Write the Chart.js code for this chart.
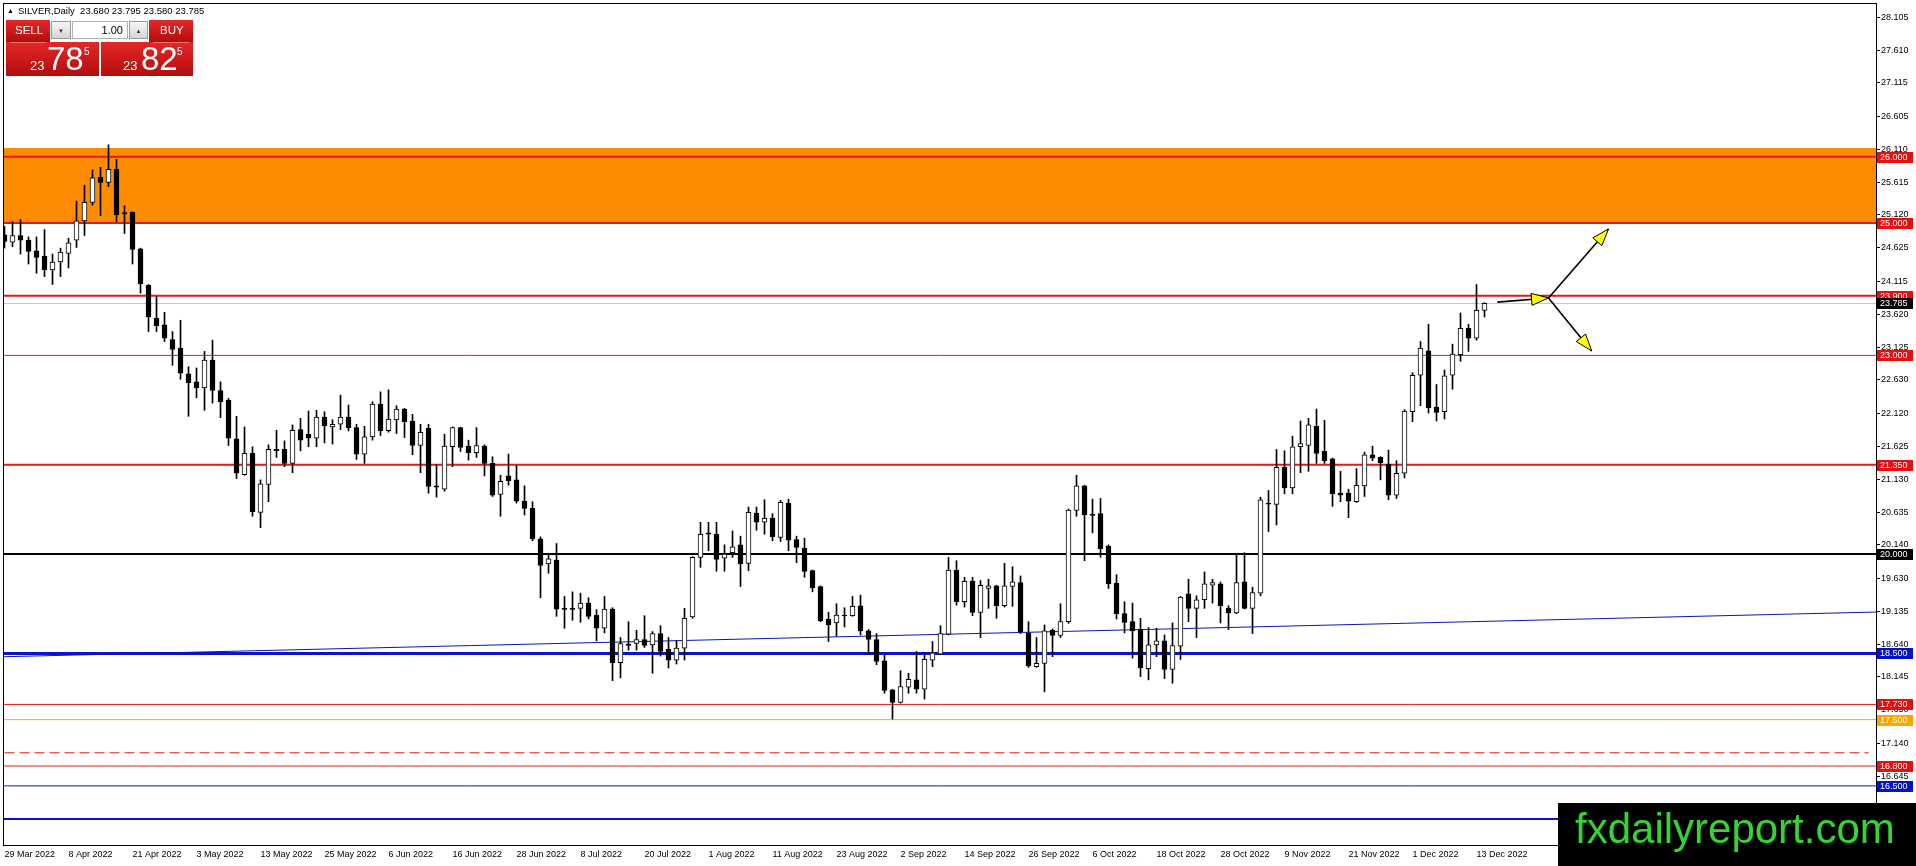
<!DOCTYPE html>
<html><head><meta charset="utf-8">
<script src="https://cdn.jsdelivr.net/npm/chart.js@4/dist/chart.umd.min.js"></script>
<style>
html,body{margin:0;padding:0;background:#fff;overflow:hidden;}
#wrap{position:relative;width:1916px;height:866px;}
#c{position:absolute;left:0;top:0;}
.abs{position:absolute;line-height:1;font-family:'Liberation Sans',Arial,sans-serif;white-space:pre;}
.red{background:linear-gradient(#e42828,#b30c0c);}
.btn{background:linear-gradient(#f6f6f6,#d6d6d6);border:1px solid #9a9a9a;box-sizing:border-box;color:#333;font-size:6px;text-align:center;padding-top:6px;}
</style></head><body>
<div id="wrap">
<canvas id="c" width="1916" height="866"></canvas>
<div class="abs" style="left:7px;top:7px;font-size:7px;color:#000">▲</div>
<div class="abs" style="left:18px;top:6px;font-size:9.5px;color:#000">SILVER,Daily  23.680 23.795 23.580 23.785</div>
<div class="abs red" style="left:6px;top:20px;width:44px;height:22px;"></div>
<div class="abs red" style="left:149px;top:20px;width:44px;height:22px;"></div>
<div class="abs red" style="left:6px;top:42px;width:93px;height:34px;"></div>
<div class="abs red" style="left:101px;top:42px;width:92px;height:34px;"></div>
<div class="abs" style="left:10px;top:42px;width:36px;height:1px;background:rgba(255,255,255,0.35)"></div>
<div class="abs" style="left:153px;top:42px;width:36px;height:1px;background:rgba(255,255,255,0.35)"></div>
<div class="abs btn" style="left:51px;top:21px;width:20px;height:18px;">▼</div>
<div class="abs" style="left:72px;top:21px;width:56px;height:18px;background:#fff;border:1px solid #b0b0b0;box-sizing:border-box;font-size:11px;color:#000;text-align:right;padding-right:4px;padding-top:3px;">1.00</div>
<div class="abs btn" style="left:129px;top:21px;width:19px;height:18px;">▲</div>
<div class="abs" style="left:15px;top:25px;font-size:11.5px;color:#fff">SELL</div>
<div class="abs" style="left:160px;top:25px;font-size:11.5px;color:#fff">BUY</div>
<div class="abs" style="left:30px;top:59px;font-size:13px;color:#fff">23</div>
<div class="abs" style="left:47px;top:42px;font-size:33px;color:#fff">78</div>
<div class="abs" style="left:84px;top:47px;font-size:10px;color:#fff">5</div>
<div class="abs" style="left:123px;top:59px;font-size:13px;color:#fff">23</div>
<div class="abs" style="left:141px;top:42px;font-size:33px;color:#fff">82</div>
<div class="abs" style="left:177px;top:47px;font-size:10px;color:#fff">5</div>
</div>
<script>
// ---------- DATA ----------
const tickLabels = ['29 Mar 2022','8 Apr 2022','21 Apr 2022','3 May 2022','13 May 2022','25 May 2022','6 Jun 2022','16 Jun 2022','28 Jun 2022','8 Jul 2022','20 Jul 2022','1 Aug 2022','11 Aug 2022','23 Aug 2022','2 Sep 2022','14 Sep 2022','26 Sep 2022','6 Oct 2022','18 Oct 2022','28 Oct 2022','9 Nov 2022','21 Nov 2022','1 Dec 2022','13 Dec 2022'];
const tickBars = [0,8,16,24,32,40,48,56,64,72,80,88,96,104,112,120,128,136,144,152,160,168,176,184];

const opens = [
24.82,24.71,24.81,24.74,24.58,24.50,24.29,24.41,24.54,24.74,
25.03,25.31,25.69,25.61,25.81,25.155,25.16,24.61,24.06,23.56,
23.46,23.24,23.11,22.72,22.60,22.51,22.93,22.47,22.32,21.74,
21.20,21.52,20.63,21.05,21.58,21.58,21.37,21.88,21.81,21.75,
22.07,21.92,21.96,22.07,21.91,21.51,21.77,22.265,21.865,22.025,
22.19,22.01,21.64,21.90,21.03,20.98,21.62,21.91,21.63,21.53,
21.63,21.37,20.90,21.18,21.12,20.80,20.69,20.23,19.85,19.91,
19.18,19.18,19.18,19.26,19.08,18.88,19.17,18.36,18.64,18.65,
18.71,18.63,18.80,18.56,18.40,18.58,19.05,19.95,20.32,20.30,
19.94,20.02,20.14,19.86,20.62,20.48,20.54,20.25,20.77,20.22,
20.09,19.75,19.51,19.02,18.96,19.08,19.07,19.22,18.84,18.71,
18.39,17.95,17.76,17.99,18.10,17.96,18.40,18.49,18.79,19.76,
19.28,19.59,19.12,19.48,19.52,19.22,19.51,19.57,18.81,18.30,
18.35,18.85,18.77,18.98,20.66,21.03,20.605,20.61,20.12,19.56,
19.10,18.98,18.86,18.27,18.63,18.69,18.26,18.61,19.40,19.18,
19.31,19.53,19.55,19.18,19.11,19.58,19.18,19.41,20.77,20.75,
21.31,21.00,21.62,21.64,21.93,21.55,21.44,20.92,20.92,20.79,
21.03,21.50,21.46,21.36,20.89,21.22,22.15,22.70,23.07,22.22,
22.15,22.70,23.01,23.41,23.26,23.68];
const highs = [
24.95,25.02,25.05,24.79,24.79,24.90,24.53,24.62,24.77,25.33,
25.57,25.80,25.84,26.18,25.96,25.26,25.17,24.62,24.07,23.89,
23.65,23.36,23.53,22.83,22.81,23.06,23.23,22.60,22.35,22.08,
21.92,21.62,21.12,21.65,21.87,21.71,21.95,22.05,22.16,22.17,
22.15,22.03,22.40,22.25,21.96,21.93,22.30,22.45,22.48,22.24,
22.20,22.11,21.96,21.96,21.35,21.81,21.92,21.915,21.72,21.91,
21.65,21.47,21.19,21.51,21.34,21.03,20.79,20.26,19.98,20.16,
19.36,19.43,19.41,19.34,19.16,19.36,19.19,18.74,18.98,18.85,
19.07,18.83,18.92,18.74,18.69,19.18,19.96,20.48,20.48,20.48,
20.14,20.35,20.27,20.71,20.71,20.82,20.61,20.81,20.83,20.27,
20.24,19.76,19.52,19.12,19.25,19.19,19.36,19.38,18.86,18.80,
18.50,17.96,18.24,18.20,18.53,18.51,18.68,18.92,19.95,19.90,
19.65,19.65,19.60,19.62,19.53,19.86,19.81,19.67,18.98,18.74,
18.93,18.87,19.25,20.68,21.19,21.04,20.83,20.84,20.14,19.69,
19.28,19.26,19.03,18.89,18.88,18.78,18.96,19.36,19.62,19.37,
19.73,19.62,19.58,19.22,20.00,20.02,19.50,20.86,20.96,21.58,
21.56,21.78,22.01,22.05,22.19,22.02,21.45,21.25,20.98,21.29,
21.54,21.63,21.47,21.57,21.41,22.18,22.74,23.21,23.47,22.56,
22.78,23.17,23.64,23.47,24.07,23.795];
const lows = [
24.62,24.64,24.53,24.38,24.24,24.19,24.07,24.19,24.32,24.63,
24.81,25.27,25.11,25.55,25.02,24.84,24.38,23.94,23.36,23.36,
23.21,22.85,22.64,22.08,22.36,22.17,22.28,22.06,21.64,21.14,
21.19,20.57,20.40,20.79,21.46,21.32,21.23,21.56,21.62,21.62,
21.68,21.66,21.88,21.86,21.43,21.37,21.72,21.79,21.84,21.82,
21.76,21.50,21.23,20.92,20.86,20.95,21.32,21.55,21.42,21.46,
21.18,20.87,20.57,21.04,20.77,20.59,20.20,19.34,19.71,19.06,
18.88,19.00,18.97,19.02,18.69,18.81,18.09,18.13,18.55,18.55,
18.59,18.20,18.46,18.28,18.34,18.40,19.03,19.80,20.05,19.74,
19.74,19.95,19.51,19.75,20.36,20.30,20.20,20.19,20.05,19.87,
19.65,19.43,18.98,18.68,18.76,18.90,19.06,18.78,18.49,18.33,
17.90,17.51,17.75,17.90,17.90,17.81,18.30,18.48,18.78,19.23,
19.20,19.07,18.74,19.18,19.03,19.20,19.21,18.80,18.29,18.29,
17.92,18.45,18.74,18.955,20.57,19.90,20.32,19.95,19.48,19.02,
18.81,18.43,18.15,18.10,18.45,18.12,18.05,18.41,18.98,18.74,
19.18,19.26,18.96,18.86,19.10,19.17,18.80,19.37,20.34,20.44,
20.91,20.91,21.23,21.25,21.37,21.37,20.72,20.79,20.55,20.78,
20.87,21.41,21.12,20.82,20.84,21.15,22.00,22.24,22.13,22.01,
22.04,22.49,22.91,23.06,23.23,23.58];
const closes = [
24.72,24.81,24.74,24.57,24.48,24.29,24.41,24.56,24.70,25.03,
25.31,25.68,25.61,25.81,25.12,25.135,24.60,24.08,23.58,23.45,
23.26,23.09,22.73,22.59,22.51,22.93,22.47,22.30,21.75,21.22,
21.52,20.64,21.06,21.58,21.56,21.37,21.87,21.72,21.75,22.07,
21.94,21.96,22.07,21.91,21.51,21.77,22.265,21.865,22.04,22.19,
22.00,21.64,21.84,21.02,21.01,21.63,21.91,21.61,21.53,21.64,
21.37,20.89,21.10,21.11,20.80,20.69,20.23,19.83,19.93,19.17,
19.165,19.165,19.26,19.06,18.88,19.17,18.36,18.65,18.62,18.71,
18.62,18.80,18.53,18.40,18.58,19.03,19.95,20.30,20.30,19.92,
20.00,20.11,19.85,20.63,20.48,20.54,20.26,20.78,20.21,20.10,
19.74,19.49,18.99,18.93,19.08,19.065,19.21,18.84,18.71,18.38,
17.94,17.76,18.00,18.11,17.96,18.41,18.51,18.80,19.76,19.28,
19.59,19.12,19.53,19.52,19.22,19.52,19.58,18.83,18.31,18.35,
18.84,18.77,18.98,20.665,21.03,20.59,20.585,20.08,19.55,19.10,
18.97,18.84,18.28,18.63,18.69,18.26,18.62,19.35,19.18,19.31,
19.55,19.57,19.22,19.11,19.57,19.18,19.42,20.82,20.755,21.31,
21.00,21.62,21.67,21.95,21.52,21.41,20.91,20.89,20.80,21.04,
21.50,21.45,21.38,20.89,21.22,22.16,22.70,23.11,22.21,22.14,
22.69,23.02,23.41,23.26,23.68,23.785];

const yTicks = [28.105,27.610,27.115,26.605,26.110,25.615,25.120,24.625,24.115,23.620,23.125,22.630,22.120,21.625,21.130,20.635,20.140,19.630,19.135,18.640,18.145,17.650,17.140,16.645,16.150];

const zoneTop = 26.13, zoneBottom = 25.00;
const levelValues = [26.000,25.000,23.900,23.785,23.000,21.350,20.000,18.500,17.730,17.500,16.800,16.500,16.000];
const levelColors = ['#e11a1a','#e11a1a','#e11a1a','#c4c4c4','#dd1c1c','#e11a1a','#000000','#0a14cc','#e01c1c','#f5aa20','#e01c1c','#0a14cc','#0a14cc'];
const levelWidths = [2,2,2,1,1,2,2,3,1,1,1,1,2];
const dashedLevel = 17.00;
const trendValues = [18.45, 19.125];

const labelValues = [26.000,25.000,23.900,23.785,23.000,21.350,20.000,18.500,17.730,17.500,16.800,16.500];
const labelColors = ['#e60f0f','#e60f0f','#e60f0f','#000000','#e60f0f','#e60f0f','#000000','#0012cc','#e60f0f','#ffa500','#e60f0f','#0012cc'];

const arrowStart = [186.6, 23.805];
const arrowJoint = [193.0, 23.867];
const arrowUp = [200.5, 24.909];
const arrowDown = [198.4, 23.067];

// ---------- CHART ----------
const X_MIN = -0.1875, X_MAX = 233.9375;
const Y_MIN = 15.6074, Y_MAX = 28.3209;
const FONT = "'Liberation Sans', Arial, sans-serif";

const bodyData = opens.map((o,i)=>({x:i, y:[o, closes[i]]}));
const wickData = highs.map((h,i)=>({x:i, y:[lows[i], h]}));
const bodyFill = opens.map((o,i)=> closes[i] >= o ? '#ffffff' : '#000000');

function hline(v, color, width, dash, x0, x1){
  return {type:'line', data:[{x:x0, y:v},{x:x1, y:v}], borderColor:color, borderWidth:width,
    borderDash:dash||[], pointRadius:0, pointHoverRadius:0, fill:false, order:10, clip:0, tension:0};
}

const datasets = [];
datasets.push({type:'line', data:[{x:-5,y:zoneTop},{x:240,y:zoneTop}], borderWidth:0, borderColor:'rgba(0,0,0,0)',
  backgroundColor:'#ff8c00', fill:{value:zoneBottom}, pointRadius:0, order:20, clip:0});
levelValues.forEach((v,i)=>datasets.push(hline(v, levelColors[i], levelWidths[i], null, -5, 240)));
datasets.push(hline(dashedLevel, '#e01c1c', 1, [10,5], 0, 233));
datasets.push({type:'line', data:[{x:X_MIN,y:trendValues[0]},{x:X_MAX,y:trendValues[1]}], borderColor:'#0a14b4', borderWidth:1,
  pointRadius:0, fill:false, order:9, clip:0});
datasets.push({type:'bar', data:wickData, backgroundColor:'#000', borderWidth:0, barThickness:1, grouped:false, order:2});
datasets.push({type:'bar', data:bodyData, backgroundColor:bodyFill, borderColor:'#000', borderWidth:1, borderSkipped:false,
  barThickness:5, grouped:false, minBarLength:1, order:1});

const overlay = {
  id:'overlay',
  afterDatasetsDraw(chart){
    const {ctx, chartArea:a, scales:{x, y}} = chart;
    const P = p => [x.getPixelForValue(p[0]), y.getPixelForValue(p[1])];
    function drawArrow(s, e){
      ctx.beginPath(); ctx.moveTo(s[0], s[1]); ctx.lineTo(e[0], e[1]);
      ctx.strokeStyle = '#000'; ctx.lineWidth = 1.6; ctx.stroke();
      const ang = Math.atan2(e[1]-s[1], e[0]-s[0]); const L = 17, W = 6;
      const bx = e[0]-L*Math.cos(ang), by = e[1]-L*Math.sin(ang);
      ctx.beginPath(); ctx.moveTo(e[0], e[1]);
      ctx.lineTo(bx + W*Math.sin(ang), by - W*Math.cos(ang));
      ctx.lineTo(bx - W*Math.sin(ang), by + W*Math.cos(ang));
      ctx.closePath(); ctx.fillStyle = '#ffff00'; ctx.fill(); ctx.lineWidth = 1; ctx.stroke();
    }
    ctx.save();
    drawArrow(P(arrowStart), P(arrowJoint));
    drawArrow(P(arrowJoint), P(arrowUp));
    drawArrow(P(arrowJoint), P(arrowDown));
    ctx.strokeStyle = '#000'; ctx.lineWidth = 1;
    ctx.strokeRect(a.left+0.5, a.top+0.5, a.right-a.left, a.bottom-a.top);
    ctx.restore();
  },
  afterDraw(chart){
    const {ctx, chartArea:a, scales:{y}} = chart;
    ctx.save();
    ctx.font = '9px ' + FONT; ctx.textBaseline = 'middle'; ctx.textAlign = 'left';
    labelValues.forEach((v,i)=>{
      const py = Math.round(y.getPixelForValue(v));
      ctx.fillStyle = labelColors[i]; ctx.fillRect(a.right+1, py-5, 36, 11);
      ctx.fillStyle = '#fff'; ctx.fillText(v.toFixed(3), a.right+4, py+0.5);
    });
    ctx.fillStyle = '#000'; ctx.fillRect(1558, 803, 358, 63);
    ctx.fillStyle = '#35d335'; ctx.font = '42px ' + FONT; ctx.textBaseline = 'alphabetic';
    ctx.fillText('fxdailyreport.com', 1575, 843);
    ctx.restore();
  }
};

new Chart(document.getElementById('c'), {
  type:'bar',
  data:{datasets},
  options:{
    responsive:false, animation:false, events:[],
    layout:{padding:{left:3, top:3, right:0, bottom:0}},
    plugins:{legend:{display:false}, tooltip:{enabled:false}},
    scales:{
      x:{type:'linear', min:X_MIN, max:X_MAX, bounds:'data', offset:false,
        grid:{display:false, drawTicks:false}, border:{display:false},
        afterBuildTicks:s=>{ s.ticks = tickBars.map(v=>({value:v})); },
        afterFit:s=>{ s.height = 21; s.paddingLeft = 0; s.paddingRight = 0; s.paddingTop = 0; s.paddingBottom = 0; },
        ticks:{autoSkip:false, maxRotation:0, minRotation:0, align:'start', padding:4, color:'#000',
          font:{family:FONT, size:9}, callback:v=>{ const k = tickBars.indexOf(v); return k >= 0 ? tickLabels[k] : ''; }}
      },
      y:{type:'linear', position:'right', min:Y_MIN, max:Y_MAX, bounds:'data', beginAtZero:false,
        grid:{drawOnChartArea:false, drawTicks:true, tickLength:4, color:'#000'}, border:{display:false},
        afterBuildTicks:s=>{ s.ticks = yTicks.map(v=>({value:v})); },
        afterFit:s=>{ s.width = 40; s.paddingTop = 0; s.paddingBottom = 0; s.paddingLeft = 0; s.paddingRight = 0; },
        ticks:{padding:1, color:'#000', font:{family:FONT, size:9}, callback:v=>Number(v).toFixed(3)}
      }
    }
  },
  plugins:[overlay]
});
</script>
</body></html>
